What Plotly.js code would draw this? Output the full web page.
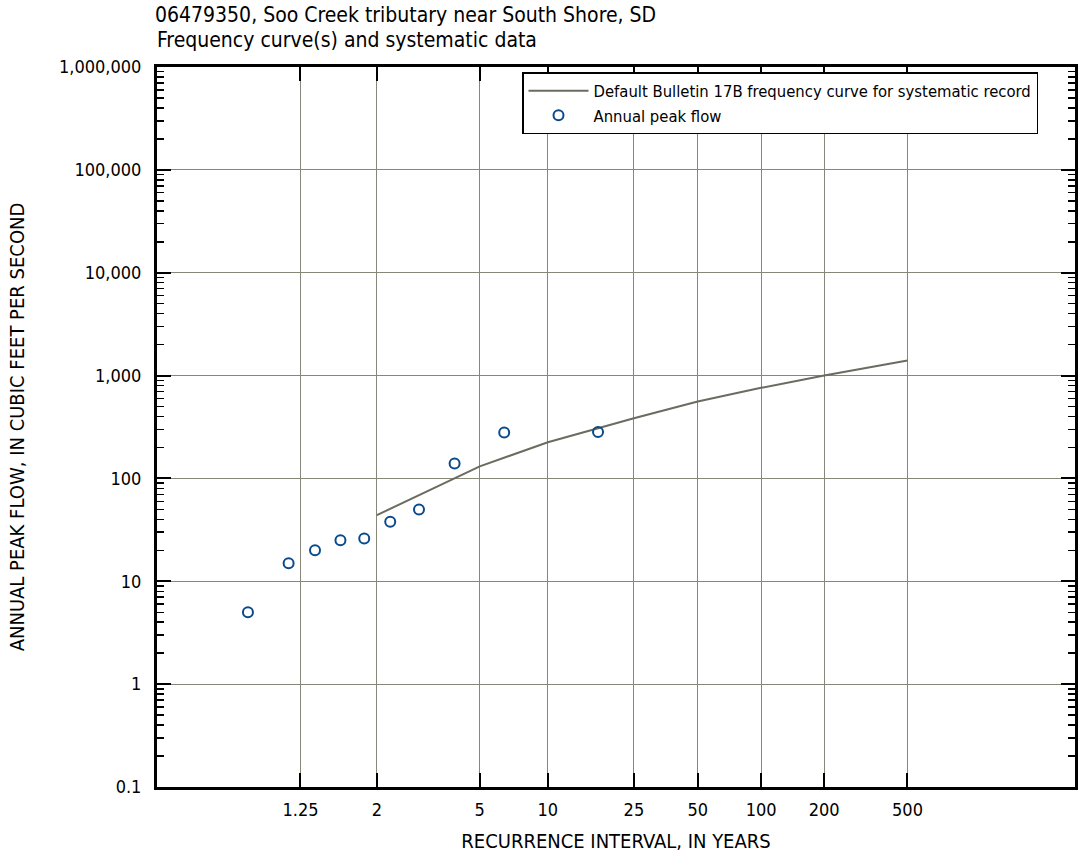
<!DOCTYPE html>
<html>
<head>
<meta charset="utf-8">
<script src="https://cdn.plot.ly/plotly-3.0.1.min.js"></script>
<style>
  html, body { margin: 0; padding: 0; background: #fff; }
  #chart { width: 1079px; height: 855px; }
</style>
</head>
<body>
<div id="chart"></div>
<script>
// ---- data ----
var curveT = [2, 5, 10, 25, 50, 100, 200, 500];            // recurrence interval, years
var curveQ = [44, 131, 225, 385, 560, 760, 1000, 1400];     // Bulletin 17B curve, cfs
var peakT  = [1.06, 1.19, 1.34, 1.55, 1.82, 2.22, 2.83, 3.92, 6.38, 17.0];
var peakQ  = [5, 15, 20, 25, 26, 38, 50, 140, 280, 283];
var xTickT = [1.25, 2, 5, 10, 25, 50, 100, 200, 500];
var xTickText = ['1.25', '2', '5', '10', '25', '50', '100', '200', '500'];
var yTickVals = [0.1, 1, 10, 100, 1000, 10000, 100000, 1000000];
var yTickText = ['0.1', '1', '10', '100', '1,000', '10,000', '100,000', '1,000,000'];
var titleLine1 = '06479350, Soo Creek tributary near South Shore, SD';
var titleLine2 = 'Frequency curve(s) and systematic data';

// probability-paper scale for the recurrence interval (Gumbel reduced variate)
function probScale(T) { return -Math.log(-Math.log(1 - 1 / T)); }
var xMinT = 1.0004, xMaxT = 3165;

var FONT = '"Liberation Sans Narrow", "DejaVu Sans Condensed", "Arial Narrow", sans-serif';

var traces = [
  {
    x: curveT.map(probScale), y: curveQ, type: 'scatter', mode: 'lines',
    name: 'Default Bulletin 17B frequency curve for systematic record',
    line: { color: '#6b6b60', width: 2 },
    hoverinfo: 'skip'
  },
  {
    x: peakT.map(probScale), y: peakQ, type: 'scatter', mode: 'markers',
    name: 'Annual peak flow',
    marker: { symbol: 'circle-open', size: 10, color: '#0a4a8c', line: { color: '#0a4a8c', width: 2 } },
    hoverinfo: 'skip'
  }
];

var layout = {
  width: 1079, height: 855,
  paper_bgcolor: '#ffffff', plot_bgcolor: '#ffffff',
  margin: { l: 157, r: 4, t: 67, b: 68, pad: 0 },
  font: { family: FONT, color: '#000', size: 18 },
  title: {
    text: titleLine1,
    font: { family: FONT, size: 21, color: '#000' },
    xref: 'container', x: 155 / 1079, xanchor: 'left',
    yref: 'container', y: 1 - 14.5 / 855, yanchor: 'middle'
  },
  annotations: [
    {
      text: titleLine2, showarrow: false,
      xref: 'paper', x: -2 / 918, xanchor: 'left',
      yref: 'paper', y: 1 + (67 - 39.5) / 720, yanchor: 'middle',
      font: { family: FONT, size: 21, color: '#000' }
    }
  ],
  showlegend: true,
  legend: {
    x: (522 - 157) / 918, y: 0.993, xanchor: 'left', yanchor: 'top',
    bordercolor: '#000', borderwidth: 1.5, bgcolor: '#fff',
    font: { family: FONT, size: 16.5, color: '#000' },
    itemwidth: 60, tracegroupgap: 0
  },
  xaxis: {
    range: [probScale(xMinT), probScale(xMaxT)],
    tickvals: xTickT.map(probScale), ticktext: xTickText,
    showgrid: true, gridcolor: '#868679', gridwidth: 1,
    zeroline: false,
    showline: true, linecolor: '#000', linewidth: 3, mirror: 'allticks',
    ticks: 'inside', ticklen: 14, tickwidth: 2, tickcolor: '#000',
    tickfont: { family: FONT, size: 18, color: '#000' },
    ticklabelstandoff: 4,
    title: { text: 'RECURRENCE INTERVAL, IN YEARS', font: { family: FONT, size: 20, color: '#000' }, standoff: 16 }
  },
  yaxis: {
    type: 'log', range: [-1, 6],
    tickvals: yTickVals, ticktext: yTickText,
    showgrid: true, gridcolor: '#868679', gridwidth: 1,
    zeroline: false,
    showline: true, linecolor: '#000', linewidth: 3, mirror: 'allticks',
    ticks: 'inside', ticklen: 14, tickwidth: 2, tickcolor: '#000',
    minor: { ticks: 'inside', ticklen: 7, tickwidth: 1.5, tickcolor: '#000', dtick: 'D1', showgrid: false },
    tickfont: { family: FONT, size: 18, color: '#000' },
    ticklabelstandoff: 9,
    title: { text: 'ANNUAL PEAK FLOW, IN CUBIC FEET PER SECOND', font: { family: FONT, size: 20, color: '#000' }, standoff: 30 }
  }
};

Plotly.newPlot('chart', traces, layout, { displayModeBar: false, staticPlot: true });
</script>
</body>
</html>
